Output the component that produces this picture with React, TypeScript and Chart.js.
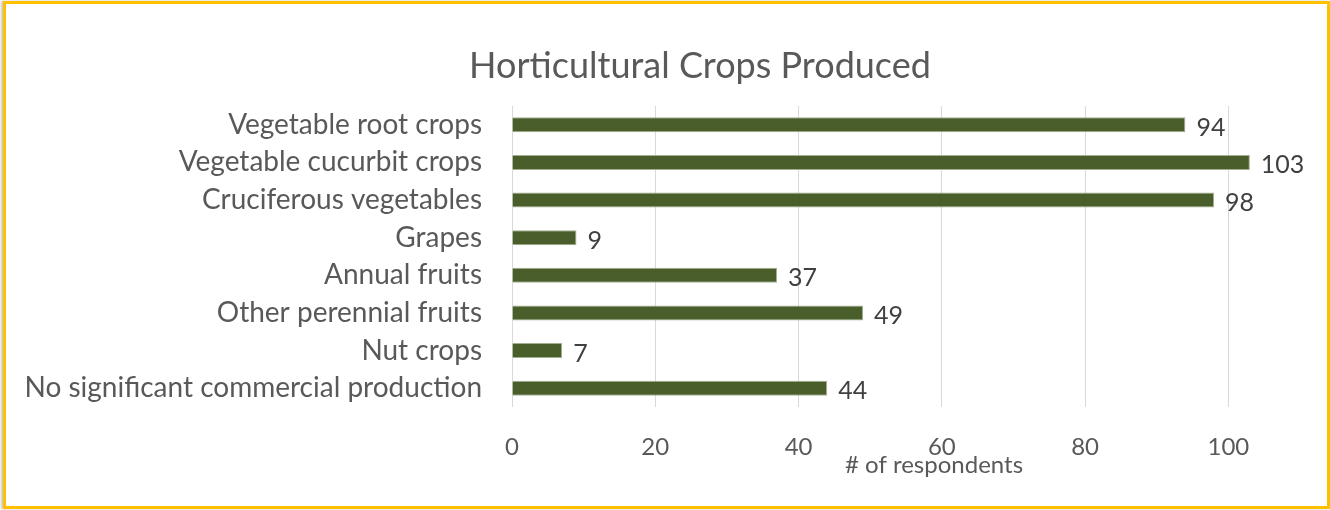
import React, { useEffect, useRef } from "react";
import { Chart, registerables } from "chart.js";

Chart.register(...registerables);

const chartTitle = "Horticultural Crops Produced";
const axisTitle = "# of respondents";
const categories = [
  "Vegetable root crops",
  "Vegetable cucurbit crops",
  "Cruciferous vegetables",
  "Grapes",
  "Annual fruits",
  "Other perennial fruits",
  "Nut crops",
  "No significant commercial production",
];
const respondents = [94, 103, 98, 9, 37, 49, 7, 44];
const xMin = 0;
const xMax = 110;
const xStep = 20;

const FONT = "Lato";

const textPlugin = {
  id: "textPlugin",
  afterDatasetsDraw(chart: any) {
    const ctx = chart.ctx;
    const meta = chart.getDatasetMeta(0);
    ctx.save();
    ctx.fillStyle = "#404040";
    ctx.font = `25px ${FONT}`;
    ctx.textAlign = "left";
    ctx.textBaseline = "alphabetic";
    meta.data.forEach((bar: any, i: number) => {
      ctx.fillText(String(respondents[i]), bar.x + 11, bar.y + 11);
    });
    ctx.restore();
  },
  afterDraw(chart: any) {
    const ctx = chart.ctx;
    ctx.save();
    ctx.fillStyle = "#595959";
    ctx.textAlign = "center";
    ctx.textBaseline = "alphabetic";
    ctx.font = `36px ${FONT}`;
    ctx.fillText(chartTitle, 700, 78);
    ctx.font = `24px ${FONT}`;
    ctx.fillText(axisTitle, 934, 473);
    ctx.restore();
  },
};

export default function App() {
  const ref = useRef<HTMLCanvasElement>(null);
  useEffect(() => {
    document.body.style.margin = "0";
    const chart = new Chart(ref.current!, {
      type: "bar",
      data: {
        labels: categories,
        datasets: [
          {
            data: respondents,
            backgroundColor: "#4a5e2b",
            borderColor: "#a3b08f",
            borderWidth: 1,
            barPercentage: 0.4,
            categoryPercentage: 1,
          },
        ],
      },
      options: {
        indexAxis: "y",
        animation: false,
        responsive: false,
        layout: { padding: { left: 0, top: 106, right: 30, bottom: 43 } },
        plugins: {
          legend: { display: false },
          title: { display: false },
          tooltip: { enabled: false },
        },
        scales: {
          x: {
            min: xMin,
            max: xMax,
            ticks: {
              stepSize: xStep,
              color: "#595959",
              font: { family: FONT, size: 24 },
              padding: 26,
            },
            afterBuildTicks: (scale: any) => {
              scale.ticks = scale.ticks.filter((t: any) => t.value % xStep === 0);
            },
            afterFit: (scale: any) => {
              scale.height = 60;
            },
            grid: { color: "#d9d9d9", lineWidth: 1, drawTicks: false },
            border: { display: false },
          },
          y: {
            ticks: {
              color: "#595959",
              font: { family: FONT, size: 28 },
              padding: 30,
            },
            afterFit: (scale: any) => {
              scale.width = 512;
            },
            grid: { display: false, drawTicks: false },
            border: { display: false },
          },
        },
      },
      plugins: [textPlugin],
    });
    return () => chart.destroy();
  }, []);

  return (
    <div style={{ position: "absolute", left: 0, top: 0, width: 1330, height: 510, background: "#fff" }}>
      <canvas ref={ref} width={1330} height={510} style={{ position: "absolute", left: 0, top: 0 }} />
      <div
        style={{
          position: "absolute",
          left: 3,
          top: 1,
          width: 1327,
          height: 508,
          boxSizing: "border-box",
          border: "3px solid #ffc000",
          boxShadow: "-2px 0 2px #c8c8c8",
          pointerEvents: "none",
        }}
      />
    </div>
  );
}
